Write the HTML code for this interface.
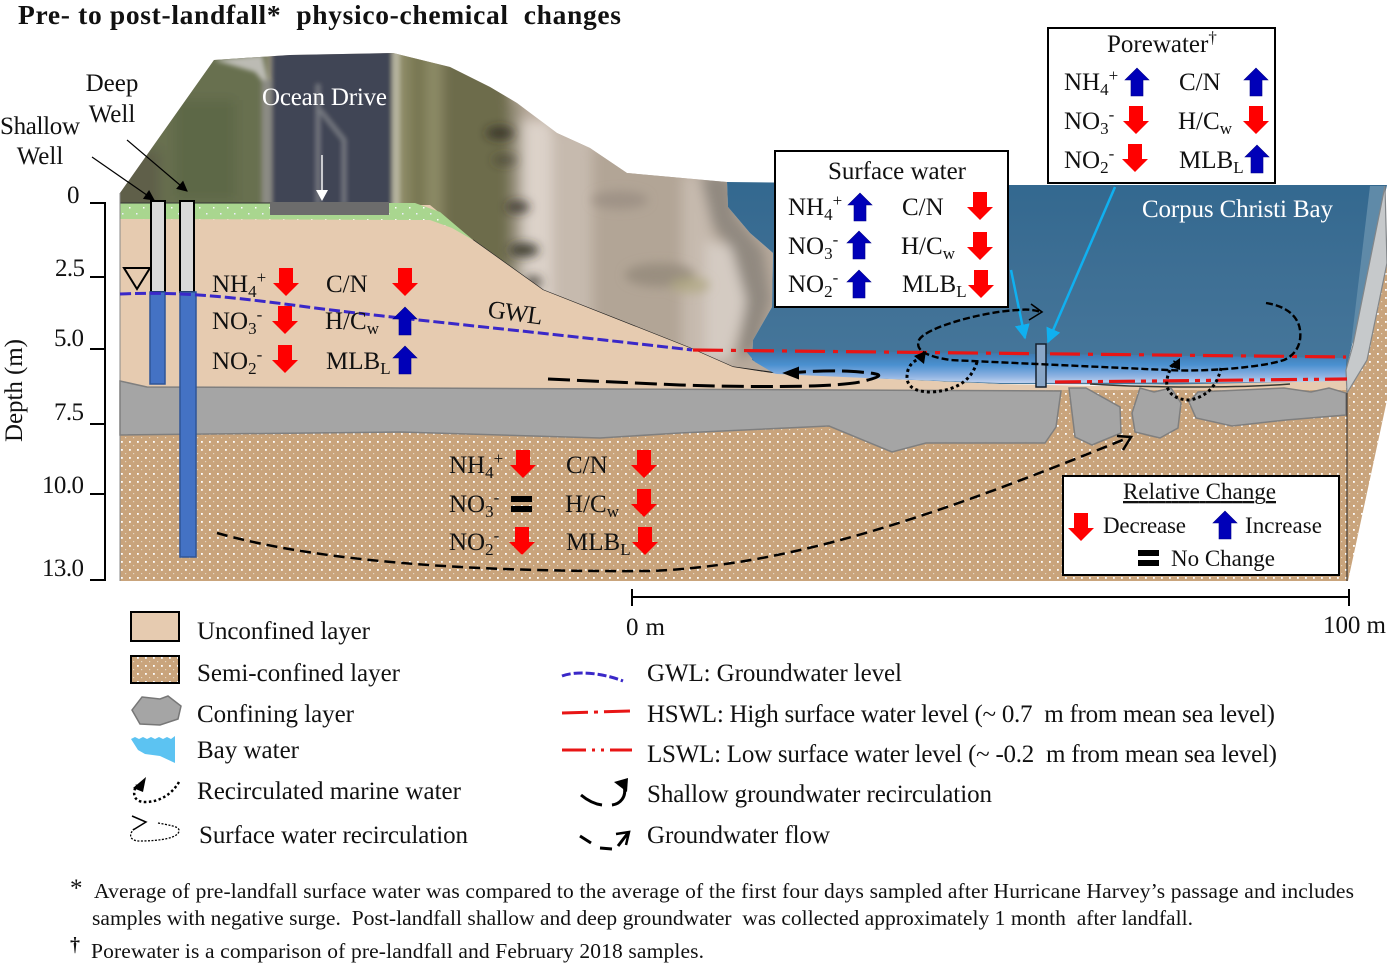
<!DOCTYPE html>
<html><head><meta charset="utf-8"><style>
html,body{margin:0;padding:0;background:#fff}
svg{display:block}
text{font-family:"Liberation Serif",serif;font-size:25px;fill:#111}
.s{font-size:17px}
.f{font-size:21.5px}
</style></head><body>
<svg width="1387" height="963" viewBox="0 0 1387 963" xmlns="http://www.w3.org/2000/svg">
<defs>
<pattern id="dots" width="8" height="8" patternUnits="userSpaceOnUse"><rect width="8" height="8" fill="#c9a47c"/><rect x="1" y="1" width="1.8" height="1.8" fill="#fff"/><rect x="5" y="5" width="1.2" height="1.2" fill="#e6d8c4"/></pattern>
<pattern id="gdots" width="14" height="12" patternUnits="userSpaceOnUse"><rect width="14" height="12" fill="#a9d68f"/><rect x="3" y="3" width="1.5" height="1.5" fill="#fff"/><rect x="10" y="9" width="1.5" height="1.5" fill="#eef"/></pattern>
<filter id="bl" x="-20%" y="-20%" width="140%" height="140%"><feGaussianBlur stdDeviation="6"/></filter>
<filter id="bl2" x="-20%" y="-20%" width="140%" height="140%"><feGaussianBlur stdDeviation="2.5"/></filter>
<filter id="bl3" x="-30%" y="-30%" width="160%" height="160%"><feGaussianBlur stdDeviation="5"/></filter>
<clipPath id="hill"><polygon points="120,193 214,60 290,55 393,53 450,67 490,87 517,103 557,133 590,148 627,173 727,182 728,207 750,233 773,253 772,307 753,340 752,360 777,373 733,375 600,380 120,380"/></clipPath>
<linearGradient id="wat" x1="0" y1="0" x2="0" y2="1"><stop offset="0" stop-color="#33688f"/><stop offset=".5" stop-color="#3f7095"/><stop offset="1" stop-color="#47789c"/></linearGradient>
<linearGradient id="wat2" x1="0" y1="0" x2="0" y2="1"><stop offset="0" stop-color="#3b74a6"/><stop offset=".45" stop-color="#4a90d0"/><stop offset=".8" stop-color="#8fb3e2"/><stop offset="1" stop-color="#c0d2f0"/></linearGradient>
<g id="r"><path d="M-7,-14H7V1H13L0,14L-13,1H-7Z" fill="#f00"/></g>
<g id="b"><path d="M-6,14H6V-2H12L0,-14L-12,-2H-6Z" fill="#0000b8" stroke="#00008a" stroke-width=".6"/></g>
<g id="e"><rect x="-11" y="-8" width="21" height="6" fill="#000"/><rect x="-11" y="2" width="21" height="6" fill="#000"/></g>
<marker id="ah" viewBox="0 0 10 10" refX="9" refY="5" markerWidth="10" markerHeight="9" orient="auto"><path d="M0,0L10,5L0,10Z" fill="#000"/></marker>
<marker id="ab" viewBox="0 0 10 10" refX="9" refY="5" markerWidth="6" markerHeight="6" orient="auto"><path d="M0,0L10,5L0,10Z" fill="#10b0f0"/></marker>
</defs>
<rect width="1387" height="963" fill="#fff"/>

<text x="18" y="24" style="font-weight:bold;font-size:27.5px" textLength="603">Pre- to post-landfall*&#160; physico-chemical&#160; changes</text>

<!-- photo -->
<g clip-path="url(#hill)">
<rect x="100" y="40" width="700" height="350" fill="#b8aa9c"/>
<g filter="url(#bl)">
<rect x="100" y="40" width="170" height="350" fill="#687050"/>
<rect x="100" y="150" width="60" height="70" fill="#5e5e4a"/>
<rect x="175" y="100" width="60" height="100" fill="#5d6847"/>
<rect x="392" y="40" width="50" height="200" fill="#8e8c68"/>
<rect x="410" y="40" width="16" height="200" fill="#76754f"/>
<rect x="442" y="40" width="68" height="260" fill="#6d6c4b"/>
<rect x="510" y="100" width="12" height="220" fill="#9a927e"/>
<rect x="522" y="120" width="30" height="240" fill="#dcd2c9"/>
<rect x="552" y="130" width="40" height="240" fill="#c6baae"/>
<rect x="592" y="150" width="90" height="230" fill="#b2a596"/>
<rect x="682" y="175" width="30" height="200" fill="#c6baae"/>
<path d="M705,240l50,10 -10,60 -15,50 -25,0z" fill="#d4cbc2"/>
<path d="M700,175l30,0 5,40 28,35 8,50 -15,50 -20,10 10,-60 -14,-50 -20,-25z" fill="#918980"/>
</g>
<g filter="url(#bl3)">
<ellipse cx="500" cy="133" rx="14" ry="6" fill="#2a2720" opacity=".8"/>
<ellipse cx="505" cy="160" rx="12" ry="4" fill="#3a362c" opacity=".7"/>
<ellipse cx="518" cy="207" rx="12" ry="6" fill="#2a2720" opacity=".8"/>
<ellipse cx="524" cy="250" rx="15" ry="7" fill="#2a2a1c" opacity=".85"/>
<ellipse cx="533" cy="282" rx="9" ry="6" fill="#3c3830" opacity=".8"/>
<ellipse cx="660" cy="275" rx="35" ry="12" fill="#94897a" opacity=".8"/>
<ellipse cx="620" cy="200" rx="28" ry="9" fill="#9a8d82" opacity=".8"/>
<ellipse cx="690" cy="285" rx="20" ry="8" fill="#aea67f" opacity=".7"/>
</g>
<g filter="url(#bl2)">
<path d="M214,60L262,55 270,90 255,72Z" fill="#bcbbb4"/>
<rect x="262" y="80" width="10" height="125" fill="#8b8b84"/>
<rect x="272" y="40" width="120" height="170" fill="#414555"/>
<path d="M318,205V84M320,110L344,140V205" fill="none" stroke="#777a82" stroke-width="4"/>
<rect x="392" y="40" width="8" height="170" fill="#b6b49e"/>
</g>
</g>
<path d="M473,240L543,290 690,348 733,367 777,373" fill="none" stroke="#222" stroke-width="1.2"/>

<!-- water -->
<polygon points="727,182 1008,185 1387,185 1352,345 1346,370 1346,385 1000,384 777,374 752,360 753,340 772,307 773,253 750,233 728,207" fill="url(#wat)"/>
<polygon points="745,350 1346,358 1346,382 1000,383 777,375 755,362" fill="url(#wat2)"/>
<polygon points="1370,186 1385,186 1355,340 1351,345" fill="#5f8aa8"/>

<!-- semi-confined -->
<polygon points="120,388 1347,388 1347,581 120,581" fill="url(#dots)"/>
<polygon points="1347,393 1367,360 1387,263 1387,400 1348,581 1347,581" fill="url(#dots)"/>
<!-- unconfined -->
<polygon points="120,205 430,205 473,240 543,290 690,348 733,367 777,374 1000,384 1100,386 1346,381 1346,390 120,390" fill="#e6cbb0"/>
<path d="M1090,384C1150,388 1240,388 1290,384" fill="none" stroke="#3a3a32" stroke-width="1.5"/>
<!-- green -->
<polygon points="120,203 415,203 440,212 473,240 452,228 430,220 120,219" fill="url(#gdots)"/>
<rect x="270" y="202" width="119" height="13" fill="#6c6c6c"/>
<line x1="120" y1="203" x2="270" y2="203" stroke="#333" stroke-width="1"/>
<path d="M120,193V581" stroke="#888" stroke-width="1" fill="none"/>
<!-- wall -->
<polygon points="1385,186 1353,345 1346,370 1347,393 1367,360 1387,263" fill="#c6c9cb" stroke="#828689" stroke-width="1.2"/>
<!-- confining -->
<polygon points="120,381 147,387 400,388 1061,391 1056,427 1045,443 926,443 892,452 829,426 680,433 600,438 400,432 120,435" fill="#a5a5a5" stroke="#7f7f7f" stroke-width="1.5"/>
<polygon points="1069,388 1086,388 1120,407 1121,433 1092,445 1075,437" fill="#a5a5a5" stroke="#7f7f7f" stroke-width="1.5"/>
<polygon points="1140,388 1154,392 1171,388 1181,403 1178,428 1160,438 1135,432 1132,413" fill="#a5a5a5" stroke="#7f7f7f" stroke-width="1.5"/>
<polygon points="1189,402 1198,392 1284,388 1311,392 1329,388 1346,393 1346,415 1286,420 1232,426 1196,418" fill="#a5a5a5" stroke="#7f7f7f" stroke-width="1.5"/>
<line x1="1347" y1="393" x2="1347" y2="581" stroke="#222" stroke-width="1"/>

<!-- axis -->
<path d="M90,203H105V580H90M90,277H105M90,349H105M90,424H105M90,494H105" fill="none" stroke="#000" stroke-width="2"/>
<text x="67" y="203">0</text><text x="55" y="276" textLength="30">2.5</text><text x="54" y="346" textLength="30">5.0</text><text x="54" y="420" textLength="30">7.5</text><text x="42" y="493" textLength="42">10.0</text><text x="42" y="576" textLength="42">13.0</text>
<text transform="translate(22,442) rotate(-90)" textLength="103">Depth (m)</text>

<!-- wells -->
<rect x="151" y="201" width="14" height="91" fill="#d9d9d9" stroke="#000" stroke-width="2"/>
<rect x="180" y="201" width="14" height="91" fill="#d9d9d9" stroke="#000" stroke-width="2"/>
<rect x="150" y="292" width="15" height="92" fill="#4472c4" stroke="#2f5597" stroke-width="1.5"/>
<rect x="180" y="292" width="16" height="265" fill="#4472c4" stroke="#2f5597" stroke-width="1.5"/>
<polygon points="124,268 150,268 137,289" fill="none" stroke="#000" stroke-width="2"/>
<path d="M92,157L154,200" stroke="#000" stroke-width="1.2" marker-end="url(#ah)" fill="none"/>
<path d="M127,140L187,191" stroke="#000" stroke-width="1.2" marker-end="url(#ah)" fill="none"/>
<text x="112" y="91" text-anchor="middle">Deep</text><text x="112" y="122" text-anchor="middle">Well</text>
<text x="0" y="134" textLength="80">Shallow</text><text x="40" y="164" text-anchor="middle">Well</text>
<text x="262" y="105" style="fill:#fff" textLength="125">Ocean Drive</text>
<path d="M322,155V192" stroke="#fff" stroke-width="1.4" fill="none"/>
<path d="M316,190H328L322,201Z" fill="#fff"/>
<text x="1142" y="217" style="fill:#fff" textLength="191">Corpus Christi Bay</text>

<!-- lines -->
<path d="M120,294C170,292 210,294 300,306S520,330 692,350" fill="none" stroke="#3a28c8" stroke-width="3" stroke-dasharray="11 4"/>
<text transform="translate(487,317) rotate(8)" textLength="55">GWL</text>
<path d="M693,350L1346,357" fill="none" stroke="#e81515" stroke-width="3.2" stroke-dasharray="30 8 5 8"/>
<path d="M1055,382L1347,379" fill="none" stroke="#e81515" stroke-width="3.2" stroke-dasharray="26 6 5 6 5 6"/>
<rect x="1036" y="344" width="10" height="43" fill="#8aa7c8" stroke="#14202e" stroke-width="1.5"/>
<path d="M1011,270L1025,338" stroke="#10b0f0" stroke-width="2.5" marker-end="url(#ab)" fill="none"/>
<path d="M1115,187L1048,342" stroke="#10b0f0" stroke-width="2.5" marker-end="url(#ab)" fill="none"/>

<!-- flows -->
<path d="M548,379L680,385C740,387 830,388 860,382C885,376 885,374 860,372C840,370 810,371 788,373" fill="none" stroke="#000" stroke-width="3" stroke-dasharray="22 7"/>
<path d="M798,368L785,373 798,378Z" fill="#000" stroke="#000" stroke-width="2"/>
<path d="M1266,303C1285,306 1298,315 1300,330C1302,345 1295,355 1284,360C1260,368 1200,372 1167,370L950,360C925,356 915,350 919,340C925,328 980,312 1018,310C1028,309 1035,310 1041,312" fill="none" stroke="#000" stroke-width="2.4" stroke-dasharray="7 3"/>
<path d="M1031,304L1042,312 1029,320" fill="none" stroke="#000" stroke-width="1.6"/>
<path d="M977,362C972,378 960,390 932,392C912,392 904,385 908,370C910,364 915,360 921,358" fill="none" stroke="#000" stroke-width="3" stroke-dasharray="3 3"/>
<path d="M914,356L926,351 924,364Z" fill="#000"/>
<path d="M1221,368C1218,382 1210,396 1190,400C1175,400 1165,392 1167,380C1168,372 1172,366 1175,361" fill="none" stroke="#000" stroke-width="3" stroke-dasharray="3 3"/>
<path d="M1169,366L1180,358 1180,370Z" fill="#000"/>
<path d="M217,533C330,565 500,572 650,571C800,565 950,510 1130,437" fill="none" stroke="#000" stroke-width="2.5" stroke-dasharray="11 6"/>
<path d="M1117,436L1131,437 1123,450" fill="none" stroke="#000" stroke-width="2.5"/>

<!-- unconfined chem -->
<text x="212" y="292">NH<tspan class="s" dy="5">4</tspan><tspan class="s" dy="-14">+</tspan></text>
<text x="326" y="292">C/N</text>
<text x="212" y="329">NO<tspan class="s" dy="5">3</tspan><tspan class="s" dy="-14">-</tspan></text>
<text x="325" y="329">H/C<tspan class="s" dy="5">w</tspan></text>
<text x="212" y="369">NO<tspan class="s" dy="5">2</tspan><tspan class="s" dy="-14">-</tspan></text>
<text x="326" y="369">MLB<tspan class="s" dy="5">L</tspan></text>
<use href="#r" x="286" y="282"/><use href="#r" x="405" y="282"/><use href="#r" x="285" y="320"/><use href="#b" x="405" y="321"/><use href="#r" x="285" y="359"/><use href="#b" x="405" y="360"/>

<!-- semi chem -->
<text x="449" y="473">NH<tspan class="s" dy="5">4</tspan><tspan class="s" dy="-14">+</tspan></text>
<text x="566" y="473">C/N</text>
<text x="449" y="512">NO<tspan class="s" dy="5">3</tspan><tspan class="s" dy="-14">-</tspan></text>
<text x="565" y="512">H/C<tspan class="s" dy="5">w</tspan></text>
<text x="449" y="550">NO<tspan class="s" dy="5">2</tspan><tspan class="s" dy="-14">-</tspan></text>
<text x="566" y="550">MLB<tspan class="s" dy="5">L</tspan></text>
<use href="#r" x="523" y="464"/><use href="#r" x="644" y="464"/><use href="#e" x="522" y="504"/><use href="#r" x="644" y="503"/><use href="#r" x="522" y="541"/><use href="#r" x="645" y="541"/>

<!-- surface box -->
<rect x="775" y="151" width="233" height="156" fill="#fff" stroke="#000" stroke-width="2"/>
<text x="828" y="179" textLength="138">Surface water</text>
<text x="788" y="215">NH<tspan class="s" dy="5">4</tspan><tspan class="s" dy="-14">+</tspan></text>
<text x="902" y="215">C/N</text>
<text x="788" y="254">NO<tspan class="s" dy="5">3</tspan><tspan class="s" dy="-14">-</tspan></text>
<text x="901" y="254">H/C<tspan class="s" dy="5">w</tspan></text>
<text x="788" y="292">NO<tspan class="s" dy="5">2</tspan><tspan class="s" dy="-14">-</tspan></text>
<text x="902" y="292">MLB<tspan class="s" dy="5">L</tspan></text>
<use href="#b" x="860" y="207"/><use href="#r" x="980" y="206"/><use href="#b" x="859" y="245"/><use href="#r" x="980" y="246"/><use href="#b" x="859" y="284"/><use href="#r" x="981" y="284"/>

<!-- porewater box -->
<rect x="1048" y="28" width="227" height="155" fill="#fff" stroke="#000" stroke-width="2"/>
<text x="1107" y="52">Porewater<tspan class="s" dy="-9">†</tspan></text>
<text x="1064" y="90">NH<tspan class="s" dy="5">4</tspan><tspan class="s" dy="-14">+</tspan></text>
<text x="1179" y="90">C/N</text>
<text x="1064" y="129">NO<tspan class="s" dy="5">3</tspan><tspan class="s" dy="-14">-</tspan></text>
<text x="1178" y="129">H/C<tspan class="s" dy="5">w</tspan></text>
<text x="1064" y="168">NO<tspan class="s" dy="5">2</tspan><tspan class="s" dy="-14">-</tspan></text>
<text x="1179" y="168">MLB<tspan class="s" dy="5">L</tspan></text>
<use href="#b" x="1137" y="82"/><use href="#b" x="1256" y="82"/><use href="#r" x="1136" y="120"/><use href="#r" x="1256" y="120"/><use href="#r" x="1135" y="158"/><use href="#b" x="1257" y="159"/>

<!-- relative change -->
<rect x="1063" y="476" width="276" height="99" fill="#fff" stroke="#000" stroke-width="2"/>
<text x="1123" y="499" style="font-size:23px;text-decoration:underline" textLength="153">Relative Change</text>
<use href="#r" x="1081" y="527"/><text x="1103" y="533" style="font-size:23px" textLength="83">Decrease</text>
<use href="#b" x="1225" y="525"/><text x="1245" y="533" style="font-size:23px" textLength="77">Increase</text>
<use href="#e" x="1149" y="558"/><text x="1171" y="566" style="font-size:23px" textLength="104">No Change</text>

<!-- scale -->
<path d="M632,589V606M632,597H1349M1349,589V606" fill="none" stroke="#000" stroke-width="2"/>
<text x="626" y="635" textLength="39">0 m</text><text x="1323" y="633" textLength="63">100 m</text>

<!-- legend left -->
<rect x="131" y="612" width="48" height="29" fill="#e6cbb0" stroke="#000" stroke-width="2"/>
<rect x="131" y="656" width="48" height="27" fill="url(#dots)" stroke="#000" stroke-width="2"/>
<polygon points="142,697 160,699 168,696 181,706 178,719 160,725 140,724 132,710" fill="#a5a5a5" stroke="#777" stroke-width="1.5"/>
<path d="M131,739l4,-2 4,2 4,-2 4,2 4,-2 4,2 4,-2 4,2 4,-2 4,2 4,-3V763L160,756 145,754 138,750Z" fill="#5cc3f2"/>
<path d="M179,782C172,794 160,802 145,802C133,802 132,792 137,785" fill="none" stroke="#000" stroke-width="2.5" stroke-dasharray="2.5 2.5"/>
<path d="M133,788L146,777 143,792Z" fill="#000"/>
<path d="M158,823C168,825 178,826 179,830C180,838 160,841 140,841C130,841 128,835 134,829" fill="none" stroke="#000" stroke-width="1.3" stroke-dasharray="2 1.5"/>
<path d="M132,816L146,822 133,830" fill="none" stroke="#000" stroke-width="1.5"/>
<text x="197" y="639" textLength="173">Unconfined layer</text>
<text x="197" y="681" textLength="203">Semi-confined layer</text>
<text x="197" y="722" textLength="157">Confining layer</text>
<text x="197" y="758" textLength="102">Bay water</text>
<text x="197" y="799" textLength="264">Recirculated marine water</text>
<text x="199" y="843" textLength="269">Surface water recirculation</text>

<!-- legend right -->
<path d="M562,676C575,671 600,672 623,681" fill="none" stroke="#3a28c8" stroke-width="3" stroke-dasharray="9 3"/>
<path d="M562,713L631,711" fill="none" stroke="#e81515" stroke-width="3" stroke-dasharray="26 6 4 6"/>
<path d="M562,750H632" fill="none" stroke="#e81515" stroke-width="3" stroke-dasharray="24 6 3 6 3 6"/>
<path d="M581,795C587,800 594,804 602,805M612,805C620,804 627,797 624,786" fill="none" stroke="#000" stroke-width="3"/>
<path d="M614,782L628,778 627,792Z" fill="#000"/>
<path d="M580,836L591,843M600,848L612,849M618,846L628,833" fill="none" stroke="#000" stroke-width="3"/>
<path d="M616,834L629,832 626,845" fill="none" stroke="#000" stroke-width="2.5"/>
<text x="647" y="681" textLength="255">GWL: Groundwater level</text>
<text x="647" y="722" textLength="628">HSWL: High surface water level (~ 0.7&#160; m from mean sea level)</text>
<text x="647" y="762" textLength="630">LSWL: Low surface water level (~ -0.2&#160; m from mean sea level)</text>
<text x="647" y="802" textLength="345">Shallow groundwater recirculation</text>
<text x="647" y="843" textLength="183">Groundwater flow</text>

<!-- footnotes -->
<text x="70" y="896">*</text>
<text class="f" x="94" y="898" textLength="1260">Average of pre-landfall surface water was compared to the average of the first four days sampled after Hurricane Harvey’s passage and includes</text>
<text class="f" x="92" y="925" textLength="1101">samples with negative surge.&#160; Post-landfall shallow and deep groundwater&#160; was collected approximately 1 month&#160; after landfall.</text>
<text x="70" y="951" style="font-weight:bold;font-size:20px">†</text>
<text class="f" x="91" y="958" textLength="613">Porewater is a comparison of pre-landfall and February 2018 samples.</text>
</svg>
</body></html>
